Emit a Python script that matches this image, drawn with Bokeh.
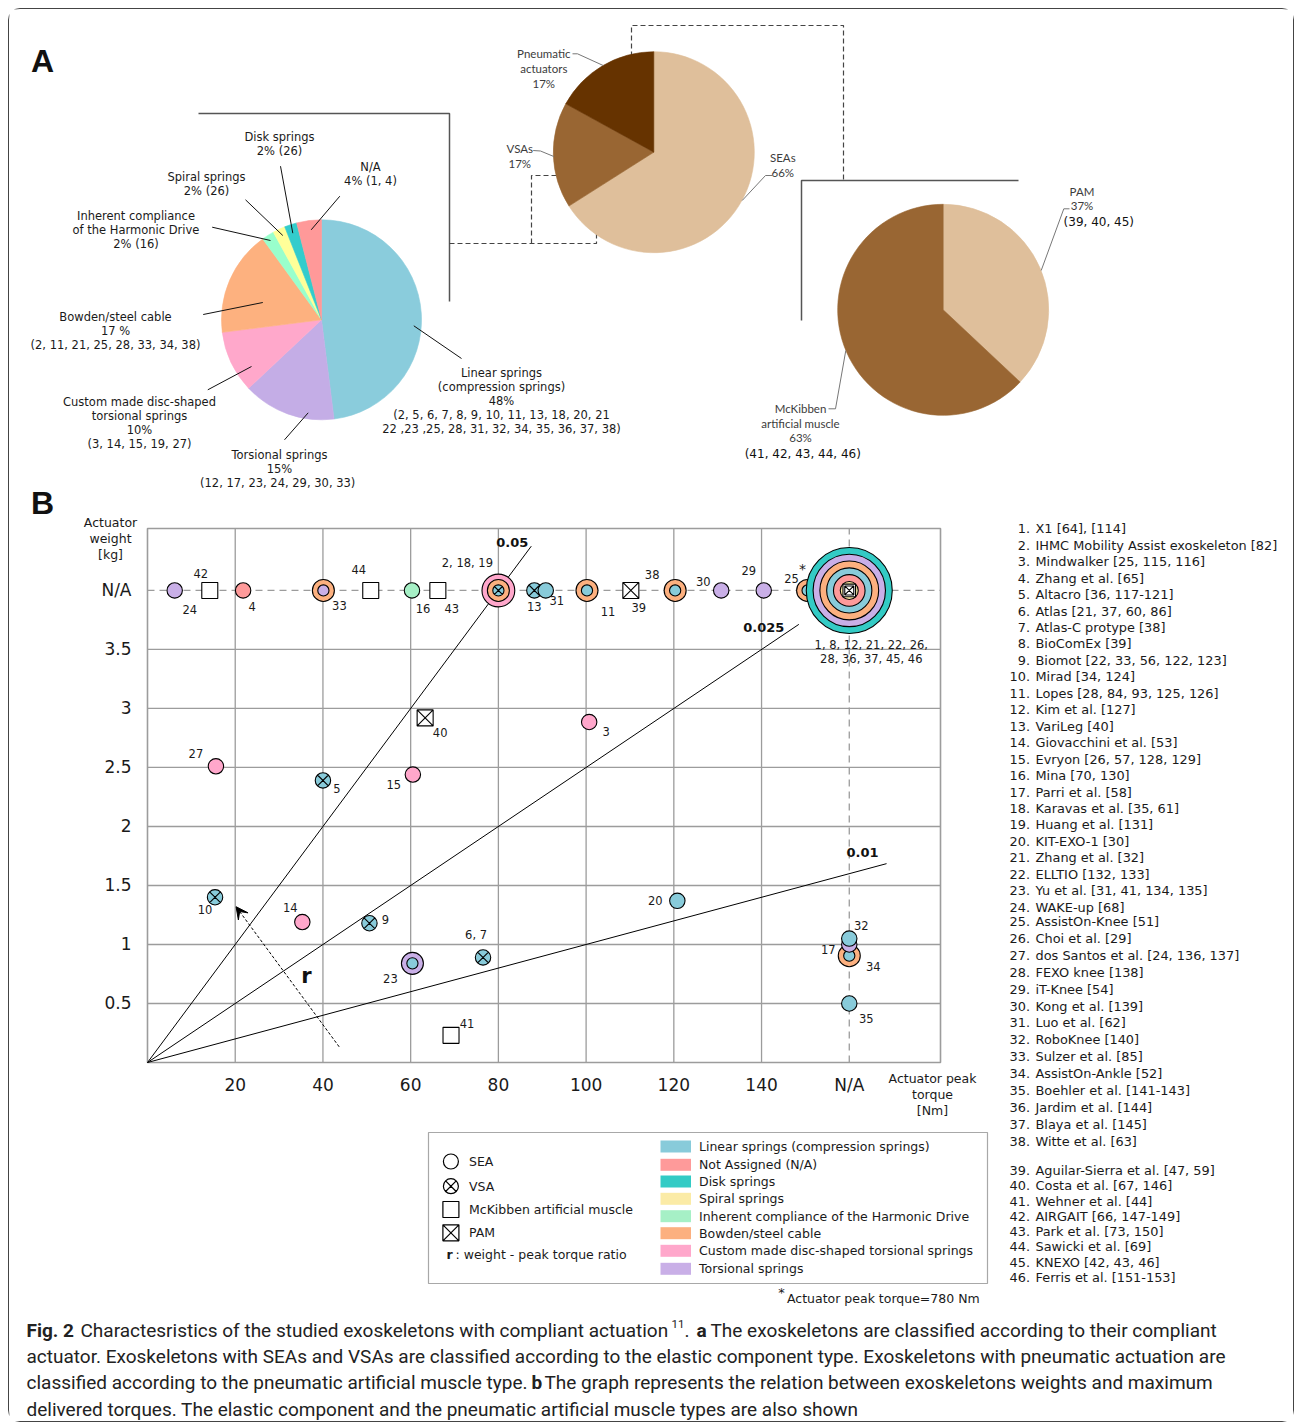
import math
from bokeh.plotting import figure
from bokeh.models import Range1d, FixedTicker, LinearAxis, Arrow, VeeHead, ColumnDataSource
from bokeh.layouts import column
from bokeh.embed import file_html
from bokeh.resources import INLINE
from bokeh.core.properties import value

# =========================== DATA ===========================
# ---- Part A : pie charts ----
elastic_categories = ["linear", "torsional", "custom", "bowden", "harmonic", "spiral", "disk", "na"]
elastic_share = [48, 15, 10, 17, 2, 2, 2, 4]
elastic_pie_labels = [
    ["Linear springs", "(compression springs)", "48%",
     "(2, 5, 6, 7, 8, 9, 10, 11, 13, 18, 20, 21", "22 ,23 ,25, 28, 31, 32, 34, 35, 36, 37, 38)"],
    ["Torsional springs", "15%", "(12, 17, 23, 24, 29,  30, 33)"],
    ["Custom made disc-shaped", "torsional springs", "10%", "(3, 14, 15, 19, 27)"],
    ["Bowden/steel cable", "17 %", "(2, 11, 21, 25, 28, 33, 34, 38)"],
    ["Inherent compliance", "of the Harmonic Drive", "2% (16)"],
    ["Spiral springs", "2% (26)"],
    ["Disk springs", "2% (26)"],
    ["N/A", "4% (1, 4)"],
]
actuator_categories = ["SEAs", "VSAs", "Pneumatic actuators"]
actuator_share = [66, 17, 17]
actuator_pie_labels = [["SEAs", "66%"], ["VSAs", "17%"], ["Pneumatic", "actuators", "17%"]]
pneumatic_categories = ["PAM", "McKibben artificial muscle"]
pneumatic_share = [37, 63]
pneumatic_pie_labels = [["PAM", "37%"], ["McKibben", "artificial muscle", "63%"]]
pneumatic_pie_refs = ["(39, 40, 45)", "(41, 42, 43, 44, 46)"]

# ---- Part B : weight vs peak torque (None = N/A) ----
point_labels = ["24", "42", "4", "33", "44", "16", "43", "2, 18, 19", "13", "31", "11", "39",
                "38", "30", "29", "25", "1, 8, 12, 21, 22, 26,\n28, 36, 37, 45, 46",
                "27", "5", "40", "15", "3", "20", "34", "17", "32", "35",
                "10", "14", "9", "23", "6, 7", "41"]
peak_torque = [6.2, 14.2, 21.8, 40.1, 50.9, 60.3, 66.2, 80.0, 88.2, 90.8, 100.2, 110.2,
               120.3, 130.8, 140.5, 150.5, None,
               15.6, 40.0, 63.3, 60.5, 100.7, 120.8, None, None, None, None,
               15.4, 35.3, 50.6, 60.4, 76.5, 69.2]
actuator_weight = [None] * 17 + [2.51, 2.39, 2.92, 2.44, 2.885, 1.37, 0.905, 1.0, 1.05, 0.50,
                                 1.40, 1.19, 1.18, 0.84, 0.89, 0.23]
actuator_type = ["SEA", "McKibben", "SEA", "SEA", "McKibben", "SEA", "McKibben", "VSA", "VSA", "SEA",
                 "SEA", "PAM", "SEA", "SEA", "SEA", "SEA", "SEA+McKibben+PAM",
                 "SEA", "VSA", "PAM", "SEA", "SEA", "SEA", "SEA", "SEA", "SEA", "SEA",
                 "VSA", "SEA", "VSA", "SEA", "VSA", "McKibben"]
elastic_type = ["torsional", "", "na", "bowden|torsional", "", "harmonic", "", "custom|bowden|linear",
                "linear", "linear", "bowden|linear", "", "bowden|linear", "torsional", "torsional",
                "bowden|linear", "disk|torsional|bowden|linear|na|spiral",
                "custom", "linear", "", "custom", "custom", "linear", "bowden|linear", "torsional",
                "linear", "linear", "linear", "custom", "linear", "torsional|linear", "linear", ""]
point_note = [""] * 15 + ["*"] + [""] * 17

ratio_values = [0.05, 0.025, 0.01]
ratio_labels = ["0.05", "0.025", "0.01"]
ratio_line_end_torque = [87.5, 148.5, 168.5]
r_arrow_torque = [43.7, 20.2]
r_arrow_weight = [0.133, 1.32]

torque_ticks = [20, 40, 60, 80, 100, 120, 140, 160]
torque_tick_labels = ["20", "40", "60", "80", "100", "120", "140", "N/A"]
weight_ticks = [0.5, 1, 1.5, 2, 2.5, 3, 3.5, 4]
weight_tick_labels = ["0.5", "1", "1.5", "2", "2.5", "3", "3.5", "N/A"]

legend_actuators = ["SEA", "VSA", "McKibben artificial muscle", "PAM"]
legend_elastic_keys = ["linear", "na", "disk", "spiral", "harmonic", "bowden", "custom", "torsional"]
legend_elastic_names = ["Linear springs (compression springs)", "Not Assigned (N/A)", "Disk springs",
                        "Spiral springs", "Inherent compliance of the Harmonic Drive",
                        "Bowden/steel cable", "Custom made disc-shaped torsional springs",
                        "Torsional springs"]

exoskeletons = [
    "X1 [64], [114]", "IHMC Mobility Assist exoskeleton [82]", "Mindwalker [25, 115, 116]",
    "Zhang et al. [65]", "Altacro [36, 117-121]", "Atlas [21, 37, 60, 86]", "Atlas-C protype [38]",
    "BioComEx [39]", "Biomot [22, 33, 56, 122, 123]", "Mirad [34, 124]",
    "Lopes [28, 84, 93, 125, 126]", "Kim et al. [127]", "VariLeg [40]", "Giovacchini et al. [53]",
    "Evryon [26, 57, 128, 129]", "Mina [70, 130]", "Parri et al. [58]", "Karavas et al. [35, 61]",
    "Huang et al. [131]", "KIT-EXO-1 [30]", "Zhang et al. [32]", "ELLTIO [132, 133]",
    "Yu et al. [31, 41, 134, 135]", "WAKE-up [68]", "AssistOn-Knee [51]", "Choi et al. [29]",
    "dos Santos et al. [24, 136, 137]", "FEXO knee [138]", "iT-Knee [54]", "Kong et al. [139]",
    "Luo et al. [62]", "RoboKnee [140]", "Sulzer et al. [85]", "AssistOn-Ankle [52]",
    "Boehler et al. [141-143]", "Jardim et al. [144]", "Blaya et al. [145]", "Witte et al. [63]",
    "Aguilar-Sierra et al. [47, 59]", "Costa et al. [67, 146]", "Wehner et al. [44]",
    "AIRGAIT [66, 147-149]", "Park et al. [73, 150]", "Sawicki et al. [69]",
    "KNEXO [42, 43, 46]", "Ferris et al. [151-153]"]

caption_lines = [
    [("Fig. 2", "bold"), ("Charactesristics of the studied exoskeletons with compliant actuation", "normal"),
     ("11", "sup"), (".", "normal"), ("a", "bold"),
     ("The exoskeletons are classified according to their compliant", "normal")],
    [("actuator. Exoskeletons with SEAs and VSAs are classified according to the elastic component type. "
      "Exoskeletons with pneumatic actuation are", "normal")],
    [("classified according to the pneumatic artificial muscle type.", "normal"), ("b", "bold"),
     ("The graph represents the relation between exoskeletons weights and maximum", "normal")],
    [("delivered torques. The elastic component and the pneumatic artificial muscle types are also shown",
      "normal")],
]

# =========================== STYLE / LAYOUT ===========================
FONT = "DejaVu Sans"
PALETTE = {"linear": "#88CBDA", "na": "#FE9A9A", "disk": "#33CBC5", "spiral": "#FBEBA6",
           "harmonic": "#A6F0C6", "bowden": "#FCB07F", "custom": "#FFA7CB", "torsional": "#C9AFE7"}
PIE_COLORS = {"linear": "#8ACCDC", "torsional": "#C4ADE6", "custom": "#FFA8CB", "bowden": "#FDB17F",
              "harmonic": "#99FFCC", "spiral": "#FFFF99", "disk": "#33CCCC", "na": "#FF9999"}
ACT_COLORS = ["#DFBF9B", "#996633", "#663300"]
PNEU_COLORS = ["#DFBF9B", "#996633"]

# page-pixel box of the scatter plot area and its data extent
FR_L, FR_R, FR_T, FR_B = 147, 940, 528, 1062
X_MAX, Y_MAX = 180.8, 4.525
NA_TORQUE, NA_WEIGHT = 160, 4.0
bt = lambda px: (px - FR_L) * X_MAX / (FR_R - FR_L)     # page x -> torque scale
bw = lambda py: (FR_B - py) * Y_MAX / (FR_B - FR_T)     # page y -> weight scale

W, H = 1284, 1412     # canvas covers page x 9..1293, y 9..1421
P = figure(width=W, height=H, x_range=Range1d(bt(9), bt(9 + W)), y_range=Range1d(bw(9 + H), bw(9)),
           x_axis_type=None, y_axis_type=None, min_border=0, outline_line_color=None,
           output_backend="svg", toolbar_location=None)


class Texts:
    def __init__(self):
        self.groups = {}

    def add(self, px, py, t, size, color="#1a1a1a", align="left", font=FONT, style="normal",
            dx=0, dy=0, data=False):
        x, y = (px, py) if data else (bt(px), bw(py))
        key = (size, color, align, font, style)
        g = self.groups.setdefault(key, dict(x=[], y=[], text=[], dx=[], dy=[]))
        g["x"].append(x); g["y"].append(y); g["text"].append(t); g["dx"].append(dx); g["dy"].append(dy)

    def draw(self, p):
        for (size, color, align, font, style), g in self.groups.items():
            p.text(x="x", y="y", text="text", x_offset="dx", y_offset="dy", source=ColumnDataSource(g),
                   text_font=value(font), text_font_size=value(f"{size}px"), text_color=color,
                   text_align=align, text_baseline="middle", text_font_style=style)


TX = Texts()


def path(pts, color, width=1.0, dash="solid"):
    P.line([bt(a) for a, b in pts], [bw(b) for a, b in pts], line_color=color, line_width=width,
           line_dash=dash)


def pie(cx, cy, r, shares, colors):
    total = float(sum(shares))
    c = 0.0
    for v, col in zip(shares, colors):
        a0 = math.pi / 2 - 2 * math.pi * c / total
        c += v
        a1 = math.pi / 2 - 2 * math.pi * c / total
        P.wedge(x=[bt(cx)], y=[bw(cy)], radius=r, radius_units="screen", start_angle=a0, end_angle=a1,
                direction="clock", fill_color=col, line_color=col, line_width=0.6)


# =========================== PART A ===========================
path([(198, 113), (449, 113), (449, 301)], "#555555", 1.5)
path([(449, 243), (596, 243), (596, 209)], "#444444", 1.2, "5 3")
path([(531, 243), (531, 175), (569, 175)], "#444444", 1.2, "5 3")
path([(631, 72), (631, 25), (843, 25), (843, 180)], "#444444", 1.2, "5 3")
path([(801, 320), (801, 180), (1018, 180)], "#555555", 1.5)

pie(321, 319.3, 100, elastic_share, [PIE_COLORS[c] for c in elastic_categories])
pie(653.3, 151.7, 100.5, actuator_share, ACT_COLORS)
pie(942.7, 309.3, 105.5, pneumatic_share, PNEU_COLORS)

LEFT_POS = [(501, 372), (279, 454), (139, 401.7), (115, 316), (135.5, 215), (206, 176.7), (279, 136),
            (370, 166.7)]
LEFT_LEAD = [[(413.3, 325.3), (461, 358)], [(307.7, 412.3), (284, 439.3)], [(251, 366), (207.3, 389.3)],
             [(262.3, 302), (202.7, 314)], [(270, 240), (211.7, 226.7)], [(282.3, 235), (245, 199.3)],
             [(292.3, 232.7), (280, 165.7)], [(310.7, 229.3), (339.3, 195.7)]]
for lines, (x, y), lead in zip(elastic_pie_labels, LEFT_POS, LEFT_LEAD):
    for k, ln in enumerate(lines):
        TX.add(x, y + 14 * k, ln, 11.5, "#1a1a1a", "center")
    path(lead, "#111111", 1.0)

TOP_POS = [(782.3, 156.7), (519.3, 147.7), (543.3, 52.7)]
TOP_LEAD = [[(741.7, 200), (765, 175), (771.7, 175)], [(553.3, 156), (540, 150.5), (532.7, 150)],
            [(602.7, 65), (577, 53.3), (572, 53.3)]]
for lines, (x, y), lead in zip(actuator_pie_labels, TOP_POS, TOP_LEAD):
    for k, ln in enumerate(lines):
        TX.add(x, y + 15 * k, ln, 11.5, "#3c3c3c", "center", font="Lato")
    path(lead, "#777777", 1.0)

RIGHT_POS = [(1081.5, 190.7), (800, 408.3)]
RIGHT_REF_POS = [(1098.3, 221.7), (802.3, 453.3)]
RIGHT_LEAD = [[(1040.7, 270), (1063.3, 208.3), (1069, 208.3)], [(845.3, 350), (835, 408.3), (828, 408.3)]]
for lines, (x, y), ref, (rx, ry), lead in zip(pneumatic_pie_labels, RIGHT_POS, pneumatic_pie_refs,
                                             RIGHT_REF_POS, RIGHT_LEAD):
    for k, ln in enumerate(lines):
        TX.add(x, y + 14.3 * k, ln, 11.5, "#3c3c3c", "center", font="Lato")
    TX.add(rx, ry, ref, 12, "#111111", "center")
    path(lead, "#777777", 1.0)

TX.add(42, 60, "A", 32, "#111111", "center", font="Liberation Sans", style="bold")
TX.add(42, 502, "B", 32, "#111111", "center", font="Liberation Sans", style="bold")

# =========================== PART B ===========================
GRID = "#9c9c9c"
gx = torque_ticks[:-1]
gy = weight_ticks[:-1]
P.segment(x0=gx, y0=[0] * len(gx), x1=gx, y1=[Y_MAX] * len(gx), line_color=GRID, line_width=1.3)
P.segment(x0=[0] * len(gy), y0=gy, x1=[X_MAX] * len(gy), y1=gy, line_color=GRID, line_width=1.3)
P.segment(x0=[NA_TORQUE, 0], y0=[0, NA_WEIGHT], x1=[NA_TORQUE, X_MAX], y1=[Y_MAX, NA_WEIGHT],
          line_color=GRID, line_width=1.3, line_dash="7 5")
P.quad(left=[0], right=[X_MAX], bottom=[0], top=[Y_MAX], fill_color=None, line_color=GRID,
       line_width=1.6)

for dim, ticks, labels, side in [("y", weight_ticks, weight_tick_labels, "left"),
                                 ("x", torque_ticks, torque_tick_labels, "below")]:
    axis = LinearAxis(ticker=FixedTicker(ticks=ticks),
                      major_label_overrides={t: s for t, s in zip(ticks, labels)},
                      fixed_location=0, axis_line_color=None, major_tick_line_color=None,
                      minor_tick_line_color=None, major_tick_in=0, major_tick_out=0,
                      major_label_standoff=16 if dim == "y" else 12,
                      major_label_text_font=FONT, major_label_text_font_size="17px",
                      major_label_text_color="#1a1a1a")
    P.add_layout(axis, side)

# ratio lines
P.segment(x0=[0] * 3, y0=[0] * 3, x1=ratio_line_end_torque,
          y1=[r * e for r, e in zip(ratio_values, ratio_line_end_torque)], line_color="black", line_width=1)
RATIO_OFF = [(-19, -4), (-35, 3), (-24, -11)]
for r, lab, e, (dx, dy) in zip(ratio_values, ratio_labels, ratio_line_end_torque, RATIO_OFF):
    TX.add(e, r * e, lab, 13, "#111111", "center", style="bold", dx=dx, dy=dy, data=True)

P.add_layout(Arrow(x_start=r_arrow_torque[0], y_start=r_arrow_weight[0], x_end=r_arrow_torque[1],
                   y_end=r_arrow_weight[1], line_dash="3 2", line_width=1, line_color="black",
                   end=VeeHead(size=12, fill_color="black", line_color="black")))
TX.add(306, 975, "r", 21, "#111111", "center", style="bold")

for txt, px, py in [("Actuator", 110, 522), ("weight", 110, 538), ("[kg]", 110, 554),
                    ("Actuator peak", 932, 1078), ("torque", 932, 1094), ("[Nm]", 932, 1110)]:
    TX.add(px, py, txt, 12.5, "#1a1a1a", "center")

# markers
mk = dict(x=[], y=[], size=[], fill=[], marker=[])


def add_mark(x, y, d, fill, marker):
    mk["x"].append(x); mk["y"].append(y); mk["size"].append(d); mk["fill"].append(fill)
    mk["marker"].append(marker)


LABEL_OFF = [(15, 19), (-9, -17), (9, 16), (16, 15), (-12, -21), (11, 18), (14, 18), (-31, -27),
             (0, 16), (11, 10), (21, 21), (8, 17), (-23, -16), (-18, -9), (-15, -20), (-16, -12),
             (22, 62), (-20, -13), (14, 8), (15, 15), (-19, 10), (17, 9), (-22, 0), (24, 11),
             (-21, 5), (12, -13), (17, 15), (-10, 12), (-12, -15), (16, -4), (-22, 15), (-7, -22),
             (16, -12)]
NOTE_OFF = (-5, -21)

for i, lab in enumerate(point_labels):
    x = NA_TORQUE if peak_torque[i] is None else peak_torque[i]
    y = NA_WEIGHT if actuator_weight[i] is None else actuator_weight[i]
    comps = [c for c in elastic_type[i].split("|") if c]
    acts = actuator_type[i].split("+")
    pneu = [a for a in acts if a in ("McKibben", "PAM")]
    n = len(comps)
    if n:
        if pneu:
            base, step = 9.0, 6.8
        elif n == 1:
            base, step = 7.7, 0
        else:
            base, step = 5.6, 5.4
        for k, c in enumerate(comps):
            rad = base + step * (n - 1 - k)
            m = "circle_x" if ("VSA" in acts and k == n - 1) else "circle"
            add_mark(x, y, 2 * rad, PALETTE[c], m)
    for a in pneu:
        d = (12.6 if a == "McKibben" else 9) if n else 16
        add_mark(x, y, d, "white", "square" if a == "McKibben" else "square_x")
    dx, dy = LABEL_OFF[i]
    lines = lab.split("\n")
    for k, ln in enumerate(lines):
        TX.add(x, y, ln, 11.5, "#1a1a1a", "center", dx=dx, dy=dy + 14 * (k - (len(lines) - 1) / 2),
               data=True)
    if point_note[i]:
        TX.add(x, y, point_note[i], 14, "#1a1a1a", "center", dx=NOTE_OFF[0], dy=NOTE_OFF[1], data=True)

P.scatter(x="x", y="y", size="size", fill_color="fill", marker="marker", line_color="black",
          line_width=1.1, source=ColumnDataSource(mk))

# =========================== LEGEND ===========================
P.quad(left=[bt(428)], right=[bt(987)], top=[bw(1132)], bottom=[bw(1283)], fill_color=None,
       line_color="#a8a8a8", line_width=1.2)
SYM = {"SEA": ("circle", 15), "VSA": ("circle_x", 15), "McKibben artificial muscle": ("square", 16),
       "PAM": ("square_x", 16)}
sym_y = [1161, 1185.7, 1209, 1232.3]
P.scatter(x=[bt(450.4)] * 4, y=[bw(v) for v in sym_y], marker=[SYM[a][0] for a in legend_actuators],
          size=[SYM[a][1] for a in legend_actuators], fill_color="white", line_color="black",
          line_width=1.2)
for a, yy in zip(legend_actuators, sym_y):
    TX.add(468.5, yy, a, 12.5, "#1a1a1a", "left")
TX.add(446, 1253.7, "r", 12.5, "#1a1a1a", "left", style="bold")
TX.add(455, 1253.7, ": weight - peak torque ratio", 12.5, "#1a1a1a", "left")
sw_y = [1146, 1164.3, 1181, 1198.3, 1215.7, 1232.7, 1250.3, 1268.3]
P.quad(left=[bt(660)] * 8, right=[bt(690.5)] * 8, top=[bw(v - 6) for v in sw_y],
       bottom=[bw(v + 6) for v in sw_y], fill_color=[PALETTE[k] for k in legend_elastic_keys],
       line_color=None)
for nm, yy in zip(legend_elastic_names, sw_y):
    TX.add(698.5, yy, nm, 12.5, "#1a1a1a", "left")
TX.add(781, 1291.5, "*", 13, "#1a1a1a", "center")
TX.add(786.5, 1297.7, "Actuator peak torque=780 Nm", 12.5, "#1a1a1a", "left")

# =========================== LIST ===========================
for i, nm in enumerate(exoskeletons):
    n = i + 1
    if n <= 24:
        py = 528.3 + (n - 1) * 16.45
    elif n <= 38:
        py = 921 + (n - 25) * 16.9
    else:
        py = 1170 + (n - 39) * 15.25
    TX.add(1029.5, py, f"{n}.", 12.9, "#1a1a1a", "right")
    TX.add(1035, py, nm, 12.9, "#1a1a1a", "left")

# =========================== CAPTION ===========================
CAP_Y = [1330, 1356, 1382, 1409]
CAP_X = [[26, 80, 671, 684, 696, 710], [26], [26, 531, 544], [26]]
for segs, yy, xs in zip(caption_lines, CAP_Y, CAP_X):
    for (txt, st), xx in zip(segs, xs):
        if st == "sup":
            TX.add(xx, yy - 7, txt, 11.5, "#222222", "left", font="Roboto")
        else:
            TX.add(xx, yy, txt, 19, "#222222", "left", font="Roboto", style=st)

TX.draw(P)

layout = column(P, styles={"border": "1px solid #444444", "border-radius": "12px",
                           "margin-left": "8px", "margin-top": "8px"})

open("out.html", "w").write(file_html(layout, INLINE))
